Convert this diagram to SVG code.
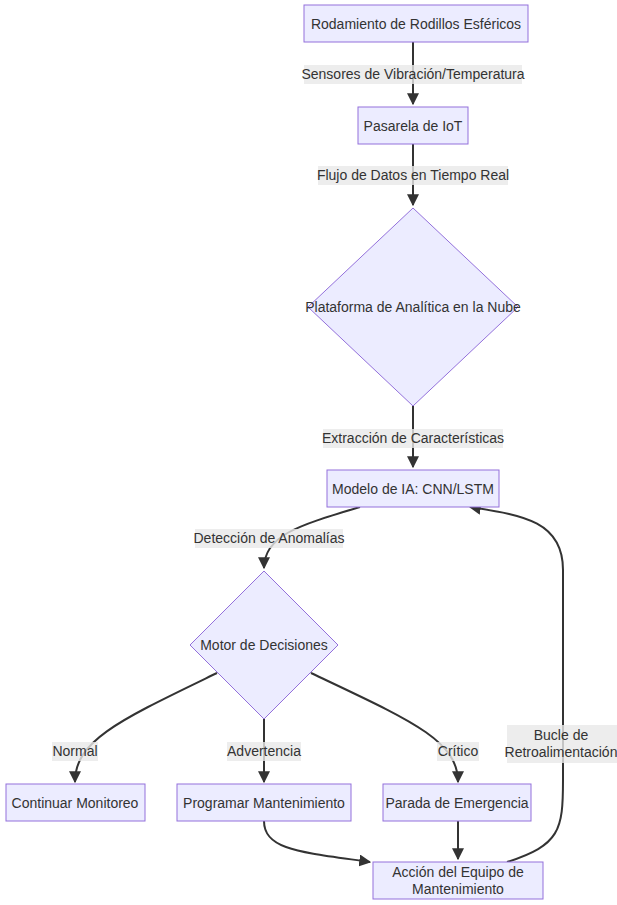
<svg xmlns="http://www.w3.org/2000/svg" width="617" height="905" viewBox="0 0 617 905">
<style>
.n{fill:#ECECFF;stroke:#9370DB;stroke-width:1}
.t{font-family:"Liberation Sans",Arial,sans-serif;font-size:14px;fill:#333;text-anchor:middle;dominant-baseline:central}
.e{fill:none;stroke:#333;stroke-width:2}
.lb{fill:#e8e8e8;opacity:0.8}
</style>
<defs><marker id="a" viewBox="0 0 10 10" refX="9" refY="5" markerWidth="6" markerHeight="6" orient="auto"><path d="M0,0L10,5L0,10z" fill="#333"/></marker></defs>
<rect width="617" height="905" fill="#fff"/>
<g id="edges">
<path class="e" d="M413,42V104" marker-end="url(#a)"/>
<path class="e" d="M413,144V205" marker-end="url(#a)"/>
<path class="e" d="M413,406V467" marker-end="url(#a)"/>
<path class="e" d="M360,507C300,525 264,535 264,568" marker-end="url(#a)"/>
<path class="e" d="M217,673C120,720 75,740 75,782" marker-end="url(#a)"/>
<path class="e" d="M264,719V782" marker-end="url(#a)"/>
<path class="e" d="M311,673C410,720 458,740 458,782" marker-end="url(#a)"/>
<path class="e" d="M264,821C264,850 300,852 370,862" marker-end="url(#a)"/>
<path class="e" d="M458,821V859" marker-end="url(#a)"/>
<path class="e" d="M507,862C560,845 563,830 563,780V570C563,520 520,515 470,507" marker-end="url(#a)"/>
<g id="labels">
<rect class="lb" x="304" y="65" width="218" height="19"/><text class="t" x="413" y="74">Sensores de Vibración/Temperatura</text>
<rect class="lb" x="318" y="166" width="190" height="19"/><text class="t" x="413" y="175">Flujo de Datos en Tiempo Real</text>
<rect class="lb" x="323" y="429" width="180" height="19"/><text class="t" x="413" y="438">Extracción de Características</text>
<rect class="lb" x="195" y="529" width="148" height="19"/><text class="t" x="269" y="538">Detección de Anomalías</text>
<rect class="lb" x="52" y="742" width="46" height="19"/><text class="t" x="75" y="751">Normal</text>
<rect class="lb" x="227" y="742" width="74" height="19"/><text class="t" x="264" y="751">Advertencia</text>
<rect class="lb" x="437" y="742" width="42" height="19"/><text class="t" x="458" y="751">Crítico</text>
<rect class="lb" x="507" y="725" width="110" height="38"/><text class="t" x="561" y="735">Bucle de</text><text class="t" x="561" y="752">Retroalimentación</text>
</g>
</g>
<g id="n1"><rect class="n" x="304" y="5" width="224" height="37"/><text class="t" x="416" y="24">Rodamiento de Rodillos Esféricos</text></g>
<g id="n2"><rect class="n" x="358" y="107" width="110" height="37"/><text class="t" x="413" y="126">Pasarela de IoT</text></g>
<g id="n3"><path class="n" d="M413,208L518,307L413,406L308,307z"/><text class="t" x="413" y="307">Plataforma de Analítica en la Nube</text></g>
<g id="n4"><rect class="n" x="327" y="470" width="172" height="37"/><text class="t" x="413" y="489">Modelo de IA: CNN/LSTM</text></g>
<g id="n5"><path class="n" d="M264,571L338,645L264,719L190,645z"/><text class="t" x="264" y="645">Motor de Decisiones</text></g>
<g id="n6"><rect class="n" x="6" y="784" width="139" height="37"/><text class="t" x="75" y="803">Continuar Monitoreo</text></g>
<g id="n7"><rect class="n" x="177" y="784" width="174" height="37"/><text class="t" x="264" y="803">Programar Mantenimiento</text></g>
<g id="n8"><rect class="n" x="383" y="784" width="148" height="37"/><text class="t" x="457" y="803">Parada de Emergencia</text></g>
<g id="n9"><rect class="n" x="373" y="862" width="170" height="37"/><text class="t" x="458" y="872">Acción del Equipo de</text><text class="t" x="458" y="889">Mantenimiento</text></g>
</svg>
